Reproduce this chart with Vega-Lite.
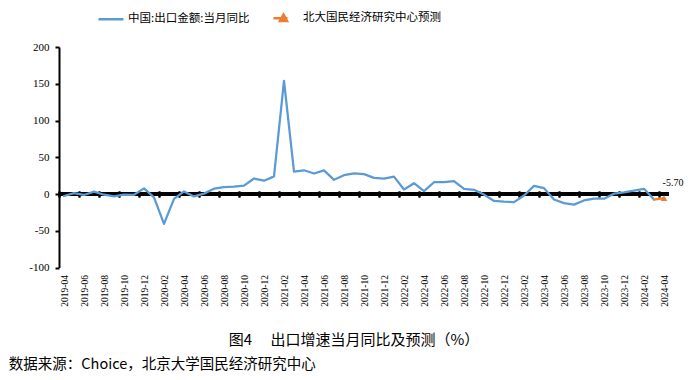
{
  "$schema": "https://vega.github.io/schema/vega-lite/v6.json",
  "background": "white",
  "padding": {"left": 8, "top": 4, "right": 5, "bottom": 5},
  "config": {"view": {"stroke": null}, "font": "Liberation Serif"},
  "title": {"text": "数据来源：Choice，北京大学国民经济研究中心", "orient": "bottom", "anchor": "start", "frame": "bounds", "font": "Noto Sans CJK SC", "fontSize": 14.5, "fontWeight": "normal", "color": "#000", "offset": 10, "dx": -20},
  "vconcat": [
    {
      "width": 610,
      "height": 220.5,
      "title": {"text": "图4\u3000 出口增速当月同比及预测（%）", "orient": "bottom", "anchor": "middle", "font": "Noto Sans CJK SC", "fontSize": 15, "fontWeight": "normal", "color": "#000", "offset": 27, "dx": -10},
      "data": {"values": [
        {"month": "2019-04", "value": -2.7, "series": "中国:出口金额:当月同比"},
        {"month": "2019-05", "value": 1.1, "series": "中国:出口金额:当月同比"},
        {"month": "2019-06", "value": -1.3, "series": "中国:出口金额:当月同比"},
        {"month": "2019-07", "value": 3.3, "series": "中国:出口金额:当月同比"},
        {"month": "2019-08", "value": -1.0, "series": "中国:出口金额:当月同比"},
        {"month": "2019-09", "value": -3.2, "series": "中国:出口金额:当月同比"},
        {"month": "2019-10", "value": -0.9, "series": "中国:出口金额:当月同比"},
        {"month": "2019-11", "value": -1.1, "series": "中国:出口金额:当月同比"},
        {"month": "2019-12", "value": 7.6, "series": "中国:出口金额:当月同比"},
        {"month": "2020-01", "value": -4.5, "series": "中国:出口金额:当月同比"},
        {"month": "2020-02", "value": -40.6, "series": "中国:出口金额:当月同比"},
        {"month": "2020-03", "value": -6.6, "series": "中国:出口金额:当月同比"},
        {"month": "2020-04", "value": 3.5, "series": "中国:出口金额:当月同比"},
        {"month": "2020-05", "value": -3.3, "series": "中国:出口金额:当月同比"},
        {"month": "2020-06", "value": 0.5, "series": "中国:出口金额:当月同比"},
        {"month": "2020-07", "value": 7.2, "series": "中国:出口金额:当月同比"},
        {"month": "2020-08", "value": 9.5, "series": "中国:出口金额:当月同比"},
        {"month": "2020-09", "value": 9.9, "series": "中国:出口金额:当月同比"},
        {"month": "2020-10", "value": 11.4, "series": "中国:出口金额:当月同比"},
        {"month": "2020-11", "value": 21.1, "series": "中国:出口金额:当月同比"},
        {"month": "2020-12", "value": 18.1, "series": "中国:出口金额:当月同比"},
        {"month": "2021-01", "value": 24.0, "series": "中国:出口金额:当月同比"},
        {"month": "2021-02", "value": 154.0, "series": "中国:出口金额:当月同比"},
        {"month": "2021-03", "value": 30.6, "series": "中国:出口金额:当月同比"},
        {"month": "2021-04", "value": 32.3, "series": "中国:出口金额:当月同比"},
        {"month": "2021-05", "value": 27.9, "series": "中国:出口金额:当月同比"},
        {"month": "2021-06", "value": 32.2, "series": "中国:出口金额:当月同比"},
        {"month": "2021-07", "value": 19.3, "series": "中国:出口金额:当月同比"},
        {"month": "2021-08", "value": 25.6, "series": "中国:出口金额:当月同比"},
        {"month": "2021-09", "value": 28.1, "series": "中国:出口金额:当月同比"},
        {"month": "2021-10", "value": 27.1, "series": "中国:出口金额:当月同比"},
        {"month": "2021-11", "value": 22.0, "series": "中国:出口金额:当月同比"},
        {"month": "2021-12", "value": 20.9, "series": "中国:出口金额:当月同比"},
        {"month": "2022-01", "value": 23.6, "series": "中国:出口金额:当月同比"},
        {"month": "2022-02", "value": 6.2, "series": "中国:出口金额:当月同比"},
        {"month": "2022-03", "value": 14.7, "series": "中国:出口金额:当月同比"},
        {"month": "2022-04", "value": 3.9, "series": "中国:出口金额:当月同比"},
        {"month": "2022-05", "value": 16.0, "series": "中国:出口金额:当月同比"},
        {"month": "2022-06", "value": 16.0, "series": "中国:出口金额:当月同比"},
        {"month": "2022-07", "value": 17.5, "series": "中国:出口金额:当月同比"},
        {"month": "2022-08", "value": 7.1, "series": "中国:出口金额:当月同比"},
        {"month": "2022-09", "value": 5.7, "series": "中国:出口金额:当月同比"},
        {"month": "2022-10", "value": -0.8, "series": "中国:出口金额:当月同比"},
        {"month": "2022-11", "value": -9.5, "series": "中国:出口金额:当月同比"},
        {"month": "2022-12", "value": -10.5, "series": "中国:出口金额:当月同比"},
        {"month": "2023-01", "value": -11.0, "series": "中国:出口金额:当月同比"},
        {"month": "2023-02", "value": -2.0, "series": "中国:出口金额:当月同比"},
        {"month": "2023-03", "value": 11.0, "series": "中国:出口金额:当月同比"},
        {"month": "2023-04", "value": 8.0, "series": "中国:出口金额:当月同比"},
        {"month": "2023-05", "value": -7.5, "series": "中国:出口金额:当月同比"},
        {"month": "2023-06", "value": -12.4, "series": "中国:出口金额:当月同比"},
        {"month": "2023-07", "value": -14.5, "series": "中国:出口金额:当月同比"},
        {"month": "2023-08", "value": -8.8, "series": "中国:出口金额:当月同比"},
        {"month": "2023-09", "value": -6.2, "series": "中国:出口金额:当月同比"},
        {"month": "2023-10", "value": -6.4, "series": "中国:出口金额:当月同比"},
        {"month": "2023-11", "value": 0.5, "series": "中国:出口金额:当月同比"},
        {"month": "2023-12", "value": 2.3, "series": "中国:出口金额:当月同比"},
        {"month": "2024-01", "value": 4.5, "series": "中国:出口金额:当月同比"},
        {"month": "2024-02", "value": 7.0, "series": "中国:出口金额:当月同比"},
        {"month": "2024-03", "value": -7.5, "series": "中国:出口金额:当月同比"},
        {"month": "2024-03", "value": -7.5, "series": "北大国民经济研究中心预测"},
        {"month": "2024-04", "value": -5.7, "series": "北大国民经济研究中心预测", "label": "-5.70"}
      ]},
      "resolve": {"axis": {"x": "independent"}},
      "layer": [
        {
          "mark": {"type": "rule", "color": "#000", "strokeWidth": 2.5},
          "encoding": {"y": {"datum": 0, "type": "quantitative", "scale": {"domain": [-100, 200], "nice": false, "zero": false},
              "axis": {"title": null, "values": [-100, -50, 0, 50, 100, 150, 200], "grid": false, "domainColor": "#000", "domainWidth": 2, "tickColor": "#000", "tickWidth": 2, "tickSize": 4, "labelFont": "Liberation Serif", "labelFontSize": 11, "labelColor": "#000", "labelPadding": 6, "labelExpr": "'' + datum.value"}}}
        },
        {
          "mark": {"type": "line", "strokeWidth": 2.25, "strokeJoin": "round", "strokeCap": "round"},
          "encoding": {
            "x": {"field": "month", "type": "ordinal", "scale": {"type": "point", "padding": 0.5},
              "axis": {"orient": "bottom", "title": null, "domain": false, "ticks": false, "labelAngle": -90, "labelFont": "Liberation Serif", "labelFontSize": 9.5, "labelColor": "#000", "labelPadding": 7,
                "values": ["2019-04","2019-06","2019-08","2019-10","2019-12","2020-02","2020-04","2020-06","2020-08","2020-10","2020-12","2021-02","2021-04","2021-06","2021-08","2021-10","2021-12","2022-02","2022-04","2022-06","2022-08","2022-10","2022-12","2023-02","2023-04","2023-06","2023-08","2023-10","2023-12","2024-02","2024-04"]}},
            "y": {"field": "value", "type": "quantitative", "scale": {"domain": [-100, 200], "nice": false, "zero": false},
              "axis": {"title": null, "values": [-100, -50, 0, 50, 100, 150, 200], "grid": false, "domainColor": "#000", "domainWidth": 2, "tickColor": "#000", "tickWidth": 2, "tickSize": 4, "labelFont": "Liberation Serif", "labelFontSize": 11, "labelColor": "#000", "labelPadding": 6, "labelExpr": "'' + datum.value"}},
            "color": {"field": "series", "type": "nominal",
              "scale": {"domain": ["中国:出口金额:当月同比", "北大国民经济研究中心预测"], "range": ["#5B9BD5", "#ED7D31"]},
              "legend": {"orient": "none", "legendX": 38, "legendY": -43, "direction": "horizontal", "title": null,
                "labelFont": "Noto Sans CJK SC", "labelFontSize": 11.5, "labelColor": "#000", "labelOffset": 3,
                "symbolSize": 625, "symbolStrokeWidth": 2.5, "columnPadding": 18,
                "encoding": {"symbols": {
                  "shape": {"value": {"expr": "datum.value === '北大国民经济研究中心预测' ? 'M-1,0L0.12,0M-0.2,-0.28L0.08,0.22L-0.48,0.22Z' : 'M-1,0L1,0'"}},
                  "fill": {"value": "#ED7D31"},
                  "fillOpacity": {"value": 1}
                }}}}
          }
        },
        {
          "transform": [{"filter": "datum.month === '2024-04'"}],
          "mark": {"type": "point", "shape": "triangle-up", "filled": true, "color": "#ED7D31", "size": 45, "opacity": 1},
          "encoding": {
            "x": {"field": "month", "type": "ordinal", "scale": {"type": "point", "padding": 0.5},
              "axis": {"orient": "top", "offset": -150, "title": null, "labels": false, "domain": false, "ticks": true, "tickSize": 6, "tickWidth": 2, "tickColor": "#000", "tickOffset": -5,
                "values": ["2019-04","2019-06","2019-08","2019-10","2019-12","2020-02","2020-04","2020-06","2020-08","2020-10","2020-12","2021-02","2021-04","2021-06","2021-08","2021-10","2021-12","2022-02","2022-04","2022-06","2022-08","2022-10","2022-12","2023-02","2023-04","2023-06","2023-08","2023-10","2023-12","2024-02","2024-04"]}},
            "y": {"field": "value", "type": "quantitative", "scale": {"domain": [-100, 200], "nice": false, "zero": false},
              "axis": {"title": null, "values": [-100, -50, 0, 50, 100, 150, 200], "grid": false, "domainColor": "#000", "domainWidth": 2, "tickColor": "#000", "tickWidth": 2, "tickSize": 4, "labelFont": "Liberation Serif", "labelFontSize": 11, "labelColor": "#000", "labelPadding": 6, "labelExpr": "'' + datum.value"}}
          }
        },
        {
          "transform": [{"filter": "datum.month === '2024-04'"}],
          "mark": {"type": "text", "font": "Liberation Serif", "fontSize": 10, "color": "#000", "dx": 9, "dy": -15},
          "encoding": {
            "x": {"field": "month", "type": "ordinal", "scale": {"type": "point", "padding": 0.5},
              "axis": {"orient": "top", "offset": -150, "title": null, "labels": false, "domain": false, "ticks": true, "tickSize": 6, "tickWidth": 2, "tickColor": "#000", "tickOffset": -5,
                "values": ["2019-04","2019-06","2019-08","2019-10","2019-12","2020-02","2020-04","2020-06","2020-08","2020-10","2020-12","2021-02","2021-04","2021-06","2021-08","2021-10","2021-12","2022-02","2022-04","2022-06","2022-08","2022-10","2022-12","2023-02","2023-04","2023-06","2023-08","2023-10","2023-12","2024-02","2024-04"]}},
            "y": {"field": "value", "type": "quantitative", "scale": {"domain": [-100, 200], "nice": false, "zero": false},
              "axis": {"title": null, "values": [-100, -50, 0, 50, 100, 150, 200], "grid": false, "domainColor": "#000", "domainWidth": 2, "tickColor": "#000", "tickWidth": 2, "tickSize": 4, "labelFont": "Liberation Serif", "labelFontSize": 11, "labelColor": "#000", "labelPadding": 6, "labelExpr": "'' + datum.value"}},
            "text": {"field": "label"}
          }
        }
      ]
    }
  ]
}
